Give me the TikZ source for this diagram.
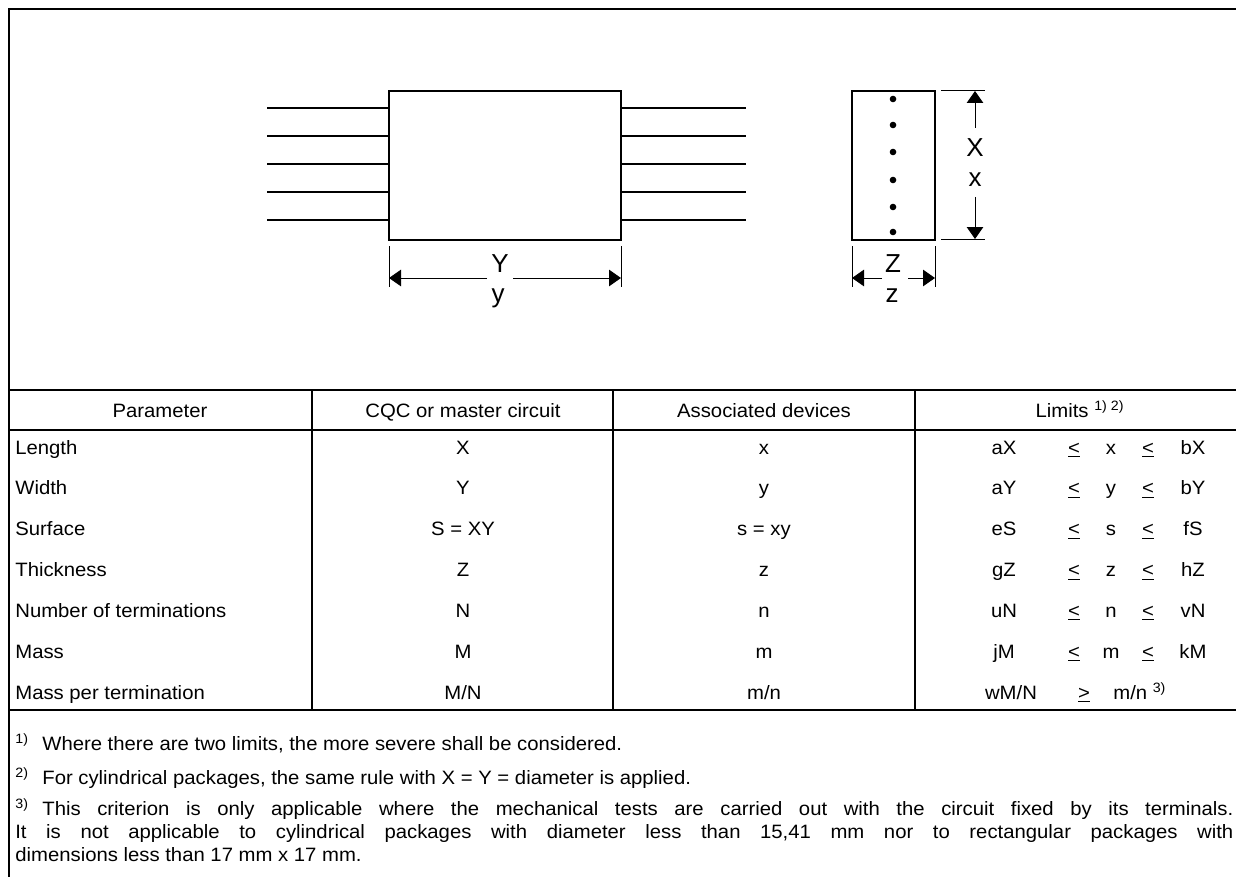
\documentclass[tikz,border=0pt]{standalone}
\usepackage{fontspec}
\setmainfont{Liberation Sans}
\newfontfamily\tabfont{Liberation Sans}[FakeStretch=1.05]
\usetikzlibrary{arrows.meta}

\tikzset{
  cell/.style={inner sep=0pt, anchor=base, font=\tabfont\fontsize{11}{13}\selectfont},
  dimlabel/.style={inner sep=0pt, anchor=base, font=\fontsize{14.8}{17}\selectfont},
  dimline/.style={line width=0.2mm, -{Triangle[length=2.4mm,width=3.3mm]}},
  extline/.style={line width=0.2mm},
  part/.style={line width=0.28mm},
  lead/.style={line width=0.24mm},
  rule/.style={line width=0.4mm},
  colrule/.style={line width=0.3mm}
}

\begin{document}
\begin{tikzpicture}[x=0.2mm,y=-0.2mm]
\useasboundingbox (0,0) rectangle (1236,876);
% frame
\draw[line width=0.5mm] (9,9) rectangle (1260,900);

% circuit seen from above
\draw[part] (389,91) rectangle (621,240);
\foreach \y in {108,136,164,192,220} {
  \draw[lead] (267,\y) -- (389,\y);
  \draw[lead] (621,\y) -- (746,\y);
}
\draw[extline] (389,246) -- (389,287);
\draw[extline] (621,246) -- (621,287);
\node[dimlabel] (Ylab) at (500,272) {Y};
\node[dimlabel] (ylab) at (498,302) {y};
\coordinate (Ygl) at (487,278); \coordinate (Ygr) at (513,278);
\coordinate (Yl) at (389,278); \coordinate (Yr) at (621,278);
\draw[dimline] (Ygl) -- (Yl);
\draw[dimline] (Ygr) -- (Yr);

% circuit seen from the side
\draw[part] (852,91) rectangle (935,240);
\foreach \y in {99,125,152,180,207,232}
  \fill (893,\y) circle[radius=0.66mm];
\draw[extline] (941,91) -- (985,91);
\draw[extline] (941,239) -- (985,239);
\node[dimlabel] (Xlab) at (975,157) {X};
\node[dimlabel] (xlab) at (975,187) {x};
\coordinate (Xgt) at (975,128); \coordinate (Xgb) at (975,197);
\coordinate (Xt) at (975,91); \coordinate (Xb) at (975,239);
\draw[dimline] (Xgt) -- (Xt);
\draw[dimline] (Xgb) -- (Xb);

\draw[extline] (852,246) -- (852,287);
\draw[extline] (935,246) -- (935,287);
\node[dimlabel] (Zlab) at (893,272) {Z};
\node[dimlabel] (zlab) at (892,302) {z};
\coordinate (Zgl) at (882,278); \coordinate (Zgr) at (908,278);
\coordinate (Zl) at (852,278); \coordinate (Zr) at (935,278);
\draw[dimline] (Zgl) -- (Zl);
\draw[dimline] (Zgr) -- (Zr);

% table
\draw[rule] (9,390) -- (1260,390);
\draw[rule] (9,430) -- (1260,430);
\draw[rule] (9,710) -- (1260,710);
\foreach \x in {312,613,915}
  \draw[colrule] (\x,390) -- (\x,710);

\node[cell] (hpar) at (160,417) {Parameter};
\node[cell] (hcqc) at (463,417) {CQC or master circuit};
\node[cell] (hdev) at (764,417) {Associated devices};
\node[cell] (hlim) at (1080,417) {Limits \textsuperscript{1) 2)}};

\foreach \pname/\cqc/\dev/\lval/\mval/\hval [count=\i from 0] in {
    Length/X/x/aX/x/bX,
    Width/Y/y/aY/y/bY,
    Surface/S = XY/s = xy/eS/s/fS,
    Thickness/Z/z/gZ/z/hZ,
    Number of terminations/N/n/uN/n/vN,
    Mass/M/m/jM/m/kM} {
  \node[cell, anchor=base west] (par-\i) at (15,{454+40.8*\i}) {\pname};
  \node[cell] (cqc-\i) at (463,{454+40.8*\i}) {\cqc};
  \node[cell] (dev-\i) at (764,{454+40.8*\i}) {\dev};
  \node[cell] (lo-\i) at (1004,{454+40.8*\i}) {\lval};
  \node[cell] (le-\i) at (1074,{454+40.8*\i}) {\underline{<}};
  \node[cell] (mid-\i) at (1111,{454+40.8*\i}) {\mval};
  \node[cell] (ge-\i) at (1148,{454+40.8*\i}) {\underline{<}};
  \node[cell] (hi-\i) at (1193,{454+40.8*\i}) {\hval};
}
\node[cell, anchor=base west] (par-6) at (15,699) {Mass per termination};
\node[cell] (cqc-6) at (463,699) {M/N};
\node[cell] (dev-6) at (764,699) {m/n};
\node[cell] (lo-6) at (1011,699) {wM/N};
\node[cell] (le-6) at (1084,699) {\underline{>}};
\node[cell, anchor=base west] (mid-6) at (1113,699) {m/n \textsuperscript{3)}};

% notes
\node[cell, anchor=base west] (note1) at (15,750)
  {\makebox[5.4mm][l]{\textsuperscript{1)}}Where there are two limits, the more severe shall be considered.};
\node[cell, anchor=base west] (note2) at (15,784)
  {\makebox[5.4mm][l]{\textsuperscript{2)}}For cylindrical packages, the same rule with X = Y = diameter is applied.};
\node[cell, anchor=base west] (note3a) at (15,815)
  {\makebox[5.4mm][l]{\textsuperscript{3)}}\makebox[238.2mm][s]{This criterion is only applicable where the mechanical tests are carried out with the circuit fixed by its terminals.}};
\node[cell, anchor=base west] (note3b) at (15,838)
  {\makebox[243.6mm][s]{It is not applicable to cylindrical packages with diameter less than 15,41 mm nor to rectangular packages with}};
\node[cell, anchor=base west] (note3c) at (15,861)
  {dimensions less than 17 mm x 17 mm.};
\end{tikzpicture}
\end{document}
